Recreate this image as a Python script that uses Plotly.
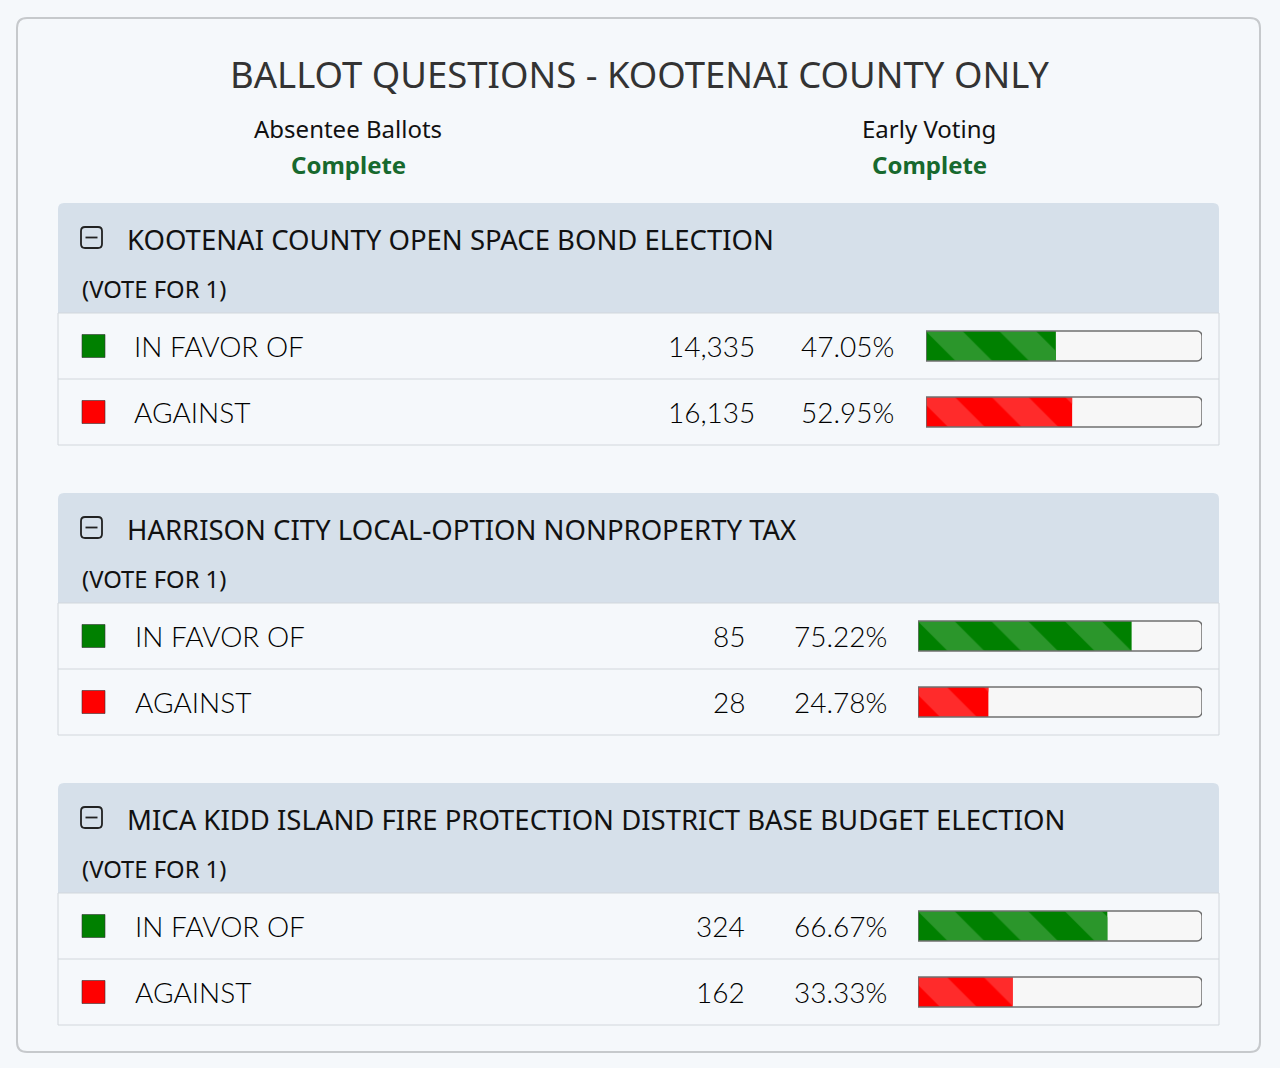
import plotly.graph_objects as go

# ── 1. Data ───────────────────────────────────────
page_title = "BALLOT QUESTIONS - KOOTENAI COUNTY ONLY"
status_labels = ["Absentee Ballots", "Early Voting"]
status_values = ["Complete", "Complete"]

questions = [
    "KOOTENAI COUNTY OPEN SPACE BOND ELECTION",
    "HARRISON CITY LOCAL-OPTION NONPROPERTY TAX",
    "MICA KIDD ISLAND FIRE PROTECTION DISTRICT BASE BUDGET ELECTION",
]
vote_for = ["(VOTE FOR 1)", "(VOTE FOR 1)", "(VOTE FOR 1)"]
choices = ["IN FAVOR OF", "AGAINST"]

votes_open_space = [14335, 16135]
votes_harrison = [85, 28]
votes_mica_kidd = [324, 162]

pct_open_space = [47.05, 52.95]
pct_harrison = [75.22, 24.78]
pct_mica_kidd = [66.67, 33.33]

votes = [votes_open_space, votes_harrison, votes_mica_kidd]
percents = [pct_open_space, pct_harrison, pct_mica_kidd]

# ── 2. Style / layout (pixels) ────────────────────
W, H = 1280, 1068
PAGE_BG = "#f5f8fb"
HEAD_BG = "#d6e0ea"
ROW_LINE = "#d2d7dc"
TEXT = "#111111"
GREEN_TXT = "#17692e"
choice_colors = ["#008000", "#ff0000"]
stripe_colors = ["#2b962b", "#ff2b2b"]

FONT_HEAD = "Noto Sans"
FONT_ROW = "Lato"

SEC_TOP = [203, 493, 783]
HEAD_H = 110
ROW_H = 66
SEC_L, SEC_R = 58, 1219
count_right = [757, 747, 747]
pct_right = [896, 889, 889]
bar_left = [926, 918, 918]
BAR_RIGHT = 1202
SWATCH_X = 93.5
label_left = [132, 133, 133]


def rrect(x0, y0, x1, y1, r, top_only=False):
    rb = 0 if top_only else r
    return (f"M {x0+r},{y0} L {x1-r},{y0} Q {x1},{y0} {x1},{y0+r} "
            f"L {x1},{y1-rb} Q {x1},{y1} {x1-rb},{y1} "
            f"L {x0+rb},{y1} Q {x0},{y1} {x0},{y1-rb} "
            f"L {x0},{y0+r} Q {x0},{y0} {x0+r},{y0} Z")


fig = go.Figure()
shapes = []
annotations = []

# outer card
shapes.append(dict(type="path", path=rrect(17, 18, 1260, 1052, 10),
                   xref="x", yref="y", fillcolor=PAGE_BG,
                   line=dict(color="#c6c9cc", width=2), layer="below"))

annotations.append(dict(x=639, y=74, text=page_title, showarrow=False,
                        font=dict(family=FONT_HEAD, size=36.5, color="#333333")))
for cx, lab, val in zip([348, 929], status_labels, status_values):
    annotations.append(dict(x=cx, y=128, text=lab, showarrow=False,
                            font=dict(family=FONT_HEAD, size=24, color=TEXT)))
    annotations.append(dict(x=cx, y=164, text=f"<b>{val}</b>", showarrow=False,
                            font=dict(family=FONT_HEAD, size=24, color=GREEN_TXT)))

row_font = dict(family=FONT_ROW, size=28, color="#000000", weight=300)

# ── 3. Sections ───────────────────────────────────
for i, q in enumerate(questions):
    top = SEC_TOP[i]
    rows_top = top + HEAD_H
    rows_bot = rows_top + 2 * ROW_H
    n = i + 2
    xa, ya = f"x{n}", f"y{n}"

    shapes.append(dict(type="path", path=rrect(SEC_L, top, SEC_R, rows_top, 6, top_only=True),
                       xref="x", yref="y", fillcolor=HEAD_BG, line=dict(width=0), layer="below"))
    shapes.append(dict(type="rect", x0=SEC_L, x1=SEC_R, y0=rows_top, y1=rows_bot,
                       xref="x", yref="y", fillcolor=PAGE_BG,
                       line=dict(color=ROW_LINE, width=1), layer="below"))
    shapes.append(dict(type="line", x0=SEC_L, x1=SEC_R, y0=rows_top + ROW_H, y1=rows_top + ROW_H,
                       xref="x", yref="y", line=dict(color=ROW_LINE, width=1), layer="below"))
    # collapse icon
    shapes.append(dict(type="path", path=rrect(81, top + 24, 102, top + 45, 4),
                       xref="x", yref="y", fillcolor="rgba(0,0,0,0)",
                       line=dict(color="#222222", width=1.8)))
    shapes.append(dict(type="line", x0=85.5, x1=97.5, y0=top + 34.5, y1=top + 34.5,
                       xref="x", yref="y", line=dict(color="#222222", width=1.8)))

    annotations.append(dict(x=125, y=top + 36, text=q, showarrow=False, xanchor="left",
                            font=dict(family=FONT_HEAD, size=27.5, color=TEXT)))
    annotations.append(dict(x=80, y=top + 86, text=vote_for[i], showarrow=False, xanchor="left",
                            font=dict(family=FONT_HEAD, size=23.8, color=TEXT)))

    # progress bars: track, solid fill, stripes, border
    bar_w = 30 / ROW_H
    fig.add_trace(go.Bar(x=[100, 100], y=choices, orientation="h", xaxis=xa, yaxis=ya,
                         width=bar_w, marker=dict(color="#f7f7f7", cornerradius=5,
                                                  line=dict(width=0)),
                         hoverinfo="skip", showlegend=False))
    fig.add_trace(go.Bar(x=percents[i], y=choices, orientation="h", xaxis=xa, yaxis=ya,
                         width=bar_w,
                         marker=dict(color=choice_colors, cornerradius=4, line=dict(width=0)),
                         hoverinfo="skip", showlegend=False))
    fig.add_trace(go.Bar(x=percents[i], y=choices, orientation="h", xaxis=xa, yaxis=ya,
                         width=bar_w,
                         marker=dict(color="rgba(0,0,0,0)", cornerradius=4, line=dict(width=0),
                                     pattern=dict(shape="\\", fgcolor=stripe_colors,
                                                  bgcolor="rgba(0,0,0,0)", fgopacity=1,
                                                  size=52, solidity=0.5, fillmode="replace")),
                         hoverinfo="skip", showlegend=False))
    fig.add_trace(go.Bar(x=[100, 100], y=choices, orientation="h", xaxis=xa, yaxis=ya,
                         width=bar_w, cliponaxis=False,
                         marker=dict(color="rgba(0,0,0,0)", cornerradius=5,
                                     line=dict(color="#707070", width=1.5)),
                         hoverinfo="skip", showlegend=False))

    # swatches
    fig.add_trace(go.Scatter(x=[SWATCH_X] * 2, y=choices, xaxis="x", yaxis=ya, mode="markers",
                             marker=dict(symbol="square", size=23, color=choice_colors,
                                         line=dict(color="#333333", width=0.6)),
                             hoverinfo="skip", showlegend=False))

    # row text: choice, count, percent
    for j, ch in enumerate(choices):
        annotations.append(dict(x=label_left[i], y=j, xref="x", yref=ya, text=ch,
                                showarrow=False, xanchor="left", yshift=0, font=row_font))
        annotations.append(dict(x=count_right[i], y=j, xref="x", yref=ya,
                                text=f"{votes[i][j]:,}", showarrow=False, xanchor="right",
                                yshift=0, font=row_font))
        annotations.append(dict(x=pct_right[i], y=j, xref="x", yref=ya,
                                text=f"{percents[i][j]:.2f}%", showarrow=False, xanchor="right",
                                yshift=0, font=row_font))

    fig.layout[f"xaxis{n}"] = dict(domain=[bar_left[i] / W, BAR_RIGHT / W], range=[0, 100],
                                   anchor=ya, visible=False, fixedrange=True)
    fig.layout[f"yaxis{n}"] = dict(domain=[1 - rows_bot / H, 1 - rows_top / H],
                                   type="category", categoryarray=choices, categoryorder="array",
                                   range=[1.5, -0.5], anchor=xa, visible=False, fixedrange=True)

fig.update_layout(
    width=W, height=H,
    margin=dict(l=0, r=0, t=0, b=0),
    paper_bgcolor=PAGE_BG, plot_bgcolor="rgba(0,0,0,0)",
    barmode="overlay",
    xaxis=dict(range=[0, W], domain=[0, 1], visible=False, fixedrange=True),
    yaxis=dict(range=[H, 0], domain=[0, 1], visible=False, fixedrange=True),
    shapes=shapes, annotations=annotations,
    showlegend=False,
)

fig.write_html("out.html", config={"displayModeBar": False},
               post_script="document.body.style.margin='0';"
                           "document.body.style.overflow='hidden';"
                           f"document.body.style.background='{PAGE_BG}';")
